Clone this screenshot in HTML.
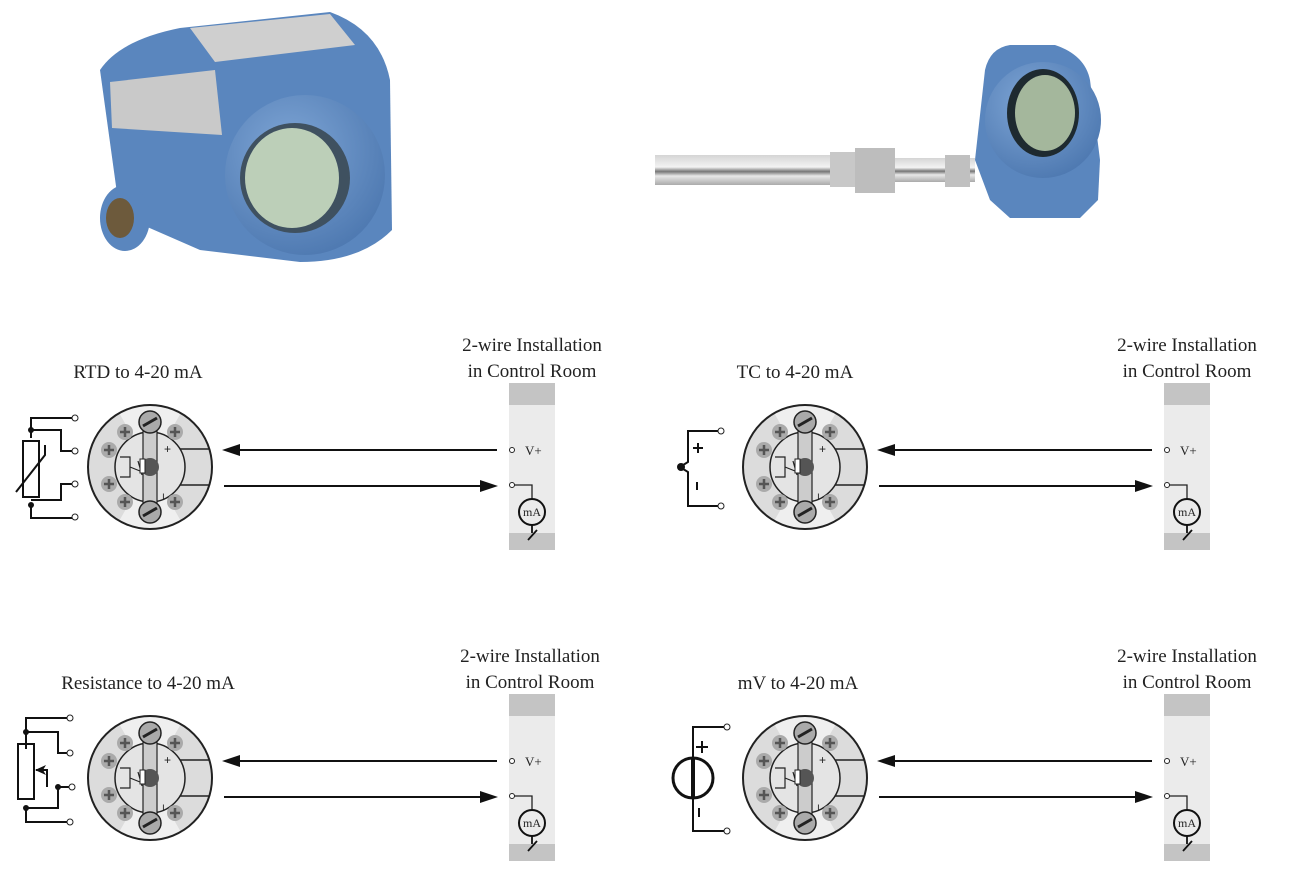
<!DOCTYPE html>
<html><head><meta charset="utf-8"><style>
html,body{margin:0;padding:0;background:#fff}
svg{display:block}
text{font-family:"Liberation Serif",serif;fill:#222}
</style></head><body>
<svg width="1290" height="883" viewBox="0 0 1290 883" xmlns="http://www.w3.org/2000/svg">
<defs>
<radialGradient id="bl" cx="40%" cy="35%" r="70%"><stop offset="0" stop-color="#7fa6d6"/><stop offset="1" stop-color="#4d78b0"/></radialGradient>
<linearGradient id="rod" x1="0" y1="0" x2="0" y2="1"><stop offset="0" stop-color="#d5d5d5"/><stop offset=".4" stop-color="#f3f3f3"/><stop offset=".55" stop-color="#777"/><stop offset=".7" stop-color="#e8e8e8"/><stop offset="1" stop-color="#aaa"/></linearGradient>
<clipPath id="hc"><circle cx="0" cy="0" r="61"/></clipPath>
<g id="head">
  <circle cx="0" cy="0" r="62" fill="#dcdcdc"/>
  <path d="M0,0 L-40,-70 H40 Z M0,0 L-40,70 H40 Z" fill="#efefef" clip-path="url(#hc)"/>
  <circle cx="0" cy="0" r="62" fill="none" stroke="#222" stroke-width="2"/>
  <circle cx="0" cy="0" r="35" fill="#e4e4e4" stroke="#222" stroke-width="1.5"/>
  <path d="M30,-18 H60 M30,18 H60" stroke="#222" stroke-width="1.5"/>
  <rect x="-7" y="-50" width="14" height="100" fill="#ccc" stroke="#222" stroke-width="1.2"/>
  <circle cx="0" cy="0" r="9" fill="#555"/>
  <circle cx="0" cy="-45" r="11" fill="#aaa" stroke="#222" stroke-width="1.5"/>
  <line x1="-7" y1="-41" x2="7" y2="-49" stroke="#222" stroke-width="3"/>
  <circle cx="0" cy="45" r="11" fill="#aaa" stroke="#222" stroke-width="1.5"/>
  <line x1="-7" y1="49" x2="7" y2="41" stroke="#222" stroke-width="3"/>
  <g fill="#aaa"><circle cx="-25" cy="-35" r="8"/><circle cx="25" cy="-35" r="8"/><circle cx="-25" cy="35" r="8"/><circle cx="25" cy="35" r="8"/><circle cx="-41" cy="-17" r="8"/><circle cx="-41" cy="17" r="8"/></g>
  <g stroke="#555" stroke-width="2.5"><path d="M-25,-40v10M-30,-35h10M25,-40v10M20,-35h10M-25,30v10M-30,35h10M25,30v10M20,35h10M-41,-22v10M-46,-17h10M-41,12v10M-46,17h10"/></g>
  <path d="M-30,-10 H-20 V10 H-30 M-20,0 L-10,4 M-12,-6 L-8,8" stroke="#222" stroke-width="1.2" fill="none"/>
  <rect x="-10" y="-8" width="5" height="14" fill="#fff" stroke="#222" stroke-width="1"/>
  <text x="14" y="-14" font-size="12" style="font-family:'Liberation Sans',sans-serif">+</text>
  <text x="12" y="32" font-size="10" style="font-family:'Liberation Sans',sans-serif">ı</text>
</g>
<g id="conn">
  <rect x="509" y="383" width="46" height="167" fill="#ebebeb"/>
  <rect x="509" y="383" width="46" height="22" fill="#c4c4c4"/>
  <rect x="509" y="533" width="46" height="17" fill="#c4c4c4"/>
  <line x1="497" y1="450" x2="236" y2="450" stroke="#111" stroke-width="2"/>
  <path d="M222,450 L240,444 L240,456 Z" fill="#111"/>
  <line x1="224" y1="486" x2="484" y2="486" stroke="#111" stroke-width="2"/>
  <path d="M498,486 L480,480 L480,492 Z" fill="#111"/>
  <circle cx="512" cy="450" r="2.5" fill="#fff" stroke="#222"/>
  <circle cx="512" cy="485" r="2.5" fill="#fff" stroke="#222"/>
  <path d="M514,485 H532 V499" stroke="#222" stroke-width="1.3" fill="none"/>
  <circle cx="532" cy="512" r="13" fill="none" stroke="#111" stroke-width="2"/>
  <path d="M532,525 V533 M528,540 L537,530" stroke="#111" stroke-width="1.8"/>
</g>
</defs>

<!-- Photo left -->
<g>
  <path d="M100,70 Q120,40 180,28 L330,12 Q380,30 390,80 L392,230 Q360,262 300,262 L200,250 L120,215 Z" fill="#5a86be"/>
  <path d="M190,28 L330,14 L355,45 L215,62 Z" fill="#cfcfcf"/>
  <path d="M110,82 L215,70 L222,135 L112,128 Z" fill="#c9c9c9"/>
  <ellipse cx="125" cy="218" rx="25" ry="33" fill="#5a86be"/>
  <ellipse cx="120" cy="218" rx="14" ry="20" fill="#6d5a3c"/>
  <circle cx="305" cy="175" r="80" fill="url(#bl)"/>
  <circle cx="295" cy="178" r="55" fill="#3f5160"/>
  <ellipse cx="292" cy="178" rx="47" ry="50" fill="#bccfb8"/>
</g>
<!-- Photo right -->
<g>
  <rect x="655" y="155" width="180" height="30" fill="url(#rod)"/>
  <rect x="830" y="152" width="30" height="35" fill="#c8c8c8"/>
  <rect x="855" y="148" width="40" height="45" fill="#bdbdbd"/>
  <rect x="895" y="158" width="80" height="24" fill="url(#rod)"/>
  <rect x="945" y="155" width="25" height="32" fill="#c0c0c0"/>
  <path d="M985,70 Q990,48 1010,45 L1055,45 Q1085,55 1090,80 L1100,160 L1098,200 L1080,218 L1010,218 L990,200 L975,160 Z" fill="#5a86be"/>
  <circle cx="1043" cy="120" r="58" fill="url(#bl)"/>
  <ellipse cx="1043" cy="113" rx="36" ry="44" fill="#1e2a30"/>
  <ellipse cx="1045" cy="113" rx="30" ry="38" fill="#a4b79c"/>
</g>

<!-- Quadrant 1: RTD -->
<g>
  <text x="138" y="378" font-size="19" text-anchor="middle">RTD to 4-20 mA</text>
  <text x="532" y="351" font-size="19" text-anchor="middle">2-wire Installation</text>
  <text x="532" y="377" font-size="19" text-anchor="middle">in Control Room</text>
  <use href="#head" x="150" y="467"/>
  <use href="#conn"/>
  <text x="525" y="455" font-size="13">V+</text>
  <text x="532" y="516" font-size="12" text-anchor="middle">mA</text>
  <g stroke="#111" stroke-width="2" fill="none">
    <path d="M31,438 V418 H73 M31,430 H61 V451 H73 M31,506 V518 H73 M31,500 H61 V484 H73"/>
    <rect x="23" y="441" width="16" height="56"/>
    <path d="M16,492 L45,455 V445"/>
  </g>
  <g fill="#111"><circle cx="31" cy="430" r="3"/><circle cx="31" cy="505" r="3"/></g>
  <g fill="#fff" stroke="#222"><circle cx="75" cy="418" r="3"/><circle cx="75" cy="451" r="3"/><circle cx="75" cy="484" r="3"/><circle cx="75" cy="517" r="3"/></g>
</g>

<!-- Quadrant 2: TC -->
<g>
  <text x="795" y="378" font-size="19" text-anchor="middle">TC to 4-20 mA</text>
  <text x="1187" y="351" font-size="19" text-anchor="middle">2-wire Installation</text>
  <text x="1187" y="377" font-size="19" text-anchor="middle">in Control Room</text>
  <use href="#head" x="805" y="467"/>
  <use href="#conn" x="655"/>
  <text x="1180" y="455" font-size="13">V+</text>
  <text x="1187" y="516" font-size="12" text-anchor="middle">mA</text>
  <g stroke="#111" stroke-width="2" fill="none">
    <path d="M718,431 H688 V462 L680,467 L688,472 V506 H718"/>
    <path d="M693,448 h10 M698,443 v10 M697,482 v8"/>
  </g>
  <circle cx="681" cy="467" r="4" fill="#111"/>
  <g fill="#fff" stroke="#222"><circle cx="721" cy="431" r="3"/><circle cx="721" cy="506" r="3"/></g>
</g>

<!-- Quadrant 3: Resistance -->
<g transform="translate(0,311)">
  <use href="#head" x="150" y="467"/>
  <use href="#conn"/>
  <text x="525" y="455" font-size="13">V+</text>
  <text x="532" y="516" font-size="12" text-anchor="middle">mA</text>
  <g stroke="#111" stroke-width="2" fill="none">
    <path d="M26,438 V407 H73 M26,421 H58 V442 H73 M26,497 V511 H73 M26,497 H58 V476 H73"/>
    <rect x="18" y="433" width="16" height="55"/>
    <path d="M36,459 H47 V476"/>
  </g>
  <path d="M35,459 L46,454 L43,459 L46,464 Z" fill="#111"/>
  <g fill="#111"><circle cx="26" cy="421" r="3"/><circle cx="26" cy="497" r="3"/><circle cx="58" cy="476" r="3"/></g>
  <g fill="#fff" stroke="#222"><circle cx="70" cy="407" r="3"/><circle cx="70" cy="442" r="3"/><circle cx="72" cy="476" r="3"/><circle cx="70" cy="511" r="3"/></g>
</g>
<text x="148" y="689" font-size="19" text-anchor="middle">Resistance to 4-20 mA</text>
<text x="530" y="662" font-size="19" text-anchor="middle">2-wire Installation</text>
<text x="530" y="688" font-size="19" text-anchor="middle">in Control Room</text>

<!-- Quadrant 4: mV -->
<g transform="translate(0,311)">
  <use href="#head" x="805" y="467"/>
  <use href="#conn" x="655"/>
  <text x="1180" y="455" font-size="13">V+</text>
  <text x="1187" y="516" font-size="12" text-anchor="middle">mA</text>
  <g stroke="#111" fill="none">
    <path d="M726,416 H693 V446 M693,488 V520 H726" stroke-width="2"/>
    <circle cx="693" cy="467" r="20" stroke-width="3"/>
    <path d="M693,446 V488" stroke-width="4"/>
    <path d="M696,436 h12 M702,430 v12 M699,497 v9" stroke-width="2"/>
  </g>
  <g fill="#fff" stroke="#222"><circle cx="727" cy="416" r="3"/><circle cx="727" cy="520" r="3"/></g>
</g>
<text x="798" y="689" font-size="19" text-anchor="middle">mV to 4-20 mA</text>
<text x="1187" y="662" font-size="19" text-anchor="middle">2-wire Installation</text>
<text x="1187" y="688" font-size="19" text-anchor="middle">in Control Room</text>
</svg>
</body></html>
